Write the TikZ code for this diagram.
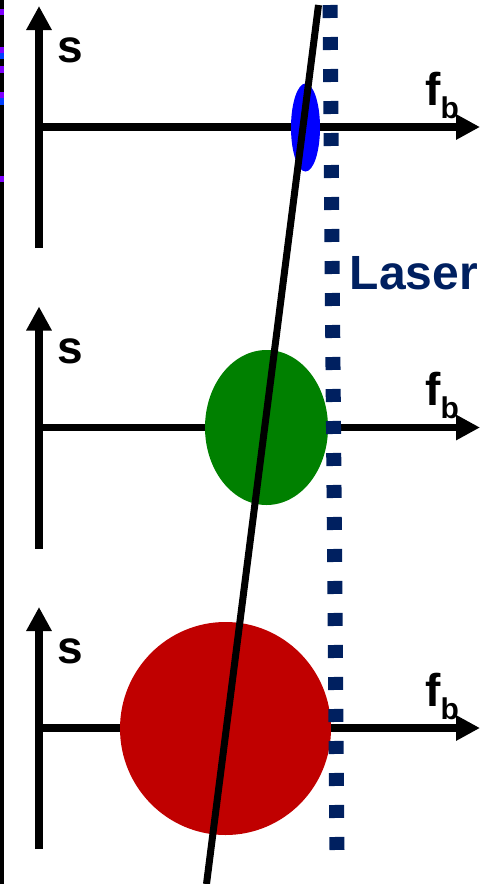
\documentclass[tikz,border=0pt]{standalone}
\usepackage{fontspec}
\setmainfont{Liberation Sans}
\usetikzlibrary{arrows.meta}
\definecolor{lasercol}{HTML}{002060}
\definecolor{redspot}{HTML}{C00000}
\definecolor{greenspot}{HTML}{008000}
\definecolor{bluespot}{HTML}{0000FF}
\definecolor{markpurple}{HTML}{7F00FF}
\definecolor{markblue}{HTML}{0040FF}
\tikzset{
  axisline/.style={line width=7.5pt, -{Triangle[length=24pt,width=24pt]}},
  lbl/.style={anchor=base west, inner sep=0pt, font=\bfseries\fontsize{46}{50}\selectfont},
  laserlbl/.style={anchor=base west, inner sep=0pt, text=lasercol, font=\bfseries\fontsize{48}{52}\selectfont},
  laserline/.style={draw=lasercol, line width=15pt, dash pattern=on 13pt off 19pt},
  beamline/.style={draw=black, line width=7pt},
  edgemark/.style={fill=#1}
}
\begin{document}
\begin{tikzpicture}[x=1pt,y=-1pt]
\useasboundingbox (0,0) rectangle (481,884);
% left edge stripe
\fill[black] (0,0) rectangle (4,884);
\fill[edgemark=markpurple] (0,9) rectangle (4,15);
\fill[edgemark=markpurple] (0,47) rectangle (4,53);
\fill[edgemark=markblue] (0,53) rectangle (4,59);
\fill[edgemark=markpurple] (0,66) rectangle (4,73);
\fill[edgemark=markpurple] (0,92) rectangle (4,98);
\fill[edgemark=markblue] (0,98) rectangle (4,105);
\fill[edgemark=markpurple] (0,176) rectangle (4,182);
% axes
\foreach \dy/\i in {0/1, 300.5/2, 601/3}{
  \coordinate (bot\i) at (39,248+\dy);
  \coordinate (top\i) at (39,6+\dy);
  \coordinate (org\i) at (39,127+\dy);
  \coordinate (end\i) at (480,127+\dy);
  \draw[axisline] (bot\i) -- (top\i);
  \draw[axisline] (org\i) -- (end\i);
  \node[lbl] (s\i) at (57.5,62.5+\dy) {s};
  \node[lbl] (f\i) at (425,105+\dy) {f\raisebox{-13pt}{\fontsize{30}{32}\selectfont b}};
}
% spots
\fill[bluespot] (305.5,127.5) ellipse [x radius=14.5pt, y radius=44pt];
\fill[greenspot] (266.5,427.5) ellipse [x radius=61.5pt, y radius=77.5pt];
\fill[redspot] (225.5,728.5) ellipse [x radius=105.5pt, y radius=106.5pt];
% laser
\coordinate (lasertop) at (330,5);
\coordinate (laserbot) at (337,850);
\draw[laserline] (lasertop) -- (laserbot);
\node[laserlbl] (laser) at (349.5,289) {Laser};
% slanted line
\coordinate (beamtop) at (318.5,5);
\coordinate (beambot) at (206.5,884);
\draw[beamline] (beamtop) -- (beambot);
\end{tikzpicture}
\end{document}
